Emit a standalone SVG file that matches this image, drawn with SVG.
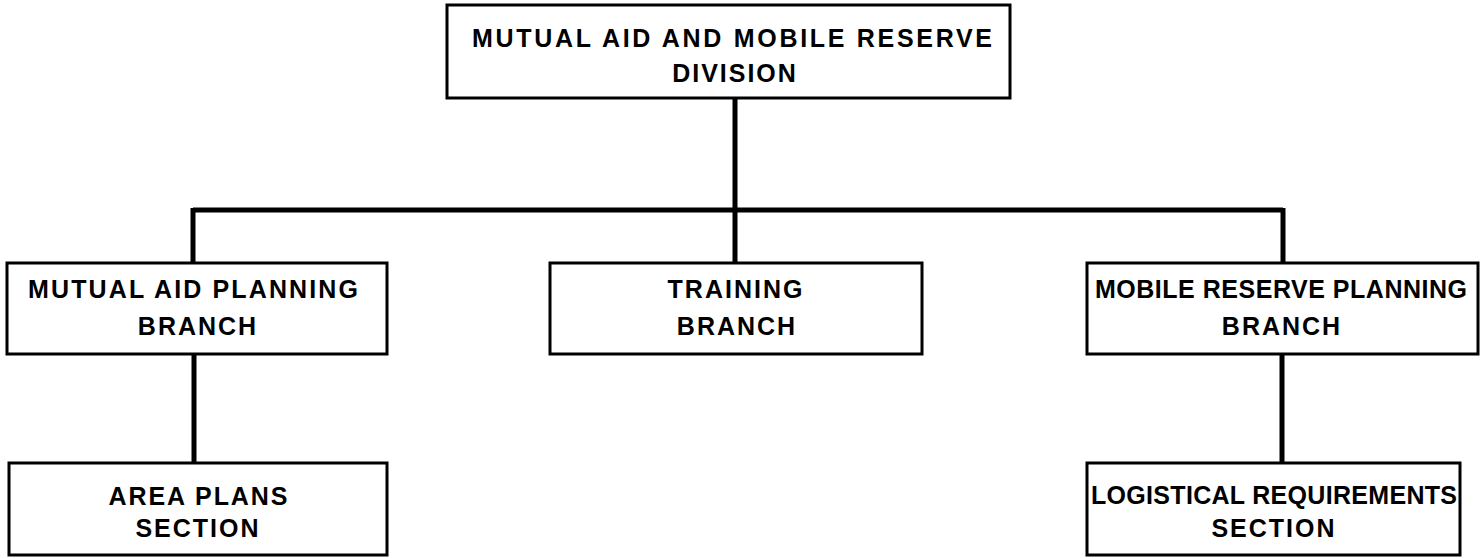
<svg xmlns="http://www.w3.org/2000/svg" width="1482" height="558" viewBox="0 0 1482 558">
<style>
.box{fill:#fff;stroke:#000;stroke-width:3}
.lbl{font-family:"Liberation Sans",Arial,sans-serif;font-weight:bold;font-size:25px;letter-spacing:2px;word-spacing:6px;text-anchor:middle;fill:#000}
.fit{letter-spacing:0;word-spacing:0}
.conn{stroke:#000;stroke-width:5;fill:none}
</style>
<rect width="1482" height="558" fill="#fff"/>
<g id="connectors">
<line class="conn" x1="735" y1="98" x2="735" y2="263"/>
<line class="conn" x1="193" y1="210" x2="1283" y2="210"/>
<line class="conn" x1="193" y1="208" x2="193" y2="263"/>
<line class="conn" x1="1283" y1="208" x2="1283" y2="263"/>
<line class="conn" x1="194" y1="354" x2="194" y2="463"/>
<line class="conn" x1="1282" y1="354" x2="1282" y2="463"/>
</g>
<g id="division">
<rect class="box" x="447" y="5" width="563" height="93"/>
<text class="lbl fit" x="732" y="47" textLength="520" lengthAdjust="spacing">MUTUAL AID AND MOBILE RESERVE</text>
<text class="lbl" x="735" y="82">DIVISION</text>
</g>
<g id="mutual-aid-branch">
<rect class="box" x="7" y="263" width="380" height="91"/>
<text class="lbl fit" x="193" y="298" textLength="330" lengthAdjust="spacing">MUTUAL AID PLANNING</text>
<text class="lbl" x="198" y="335">BRANCH</text>
</g>
<g id="training-branch">
<rect class="box" x="550" y="263" width="372" height="91"/>
<text class="lbl" x="736" y="298">TRAINING</text>
<text class="lbl" x="737" y="335">BRANCH</text>
</g>
<g id="mobile-reserve-branch">
<rect class="box" x="1087" y="263" width="391" height="91"/>
<text class="lbl fit" x="1281" y="298" textLength="372" lengthAdjust="spacing">MOBILE RESERVE PLANNING</text>
<text class="lbl" x="1282" y="335">BRANCH</text>
</g>
<g id="area-plans-section">
<rect class="box" x="9" y="463" width="378" height="92"/>
<text class="lbl fit" x="198" y="505" textLength="179" lengthAdjust="spacing">AREA PLANS</text>
<text class="lbl" x="198" y="537">SECTION</text>
</g>
<g id="logistical-section">
<rect class="box" x="1087" y="463" width="373" height="92"/>
<text class="lbl fit" x="1274" y="504" textLength="366" lengthAdjust="spacing">LOGISTICAL REQUIREMENTS</text>
<text class="lbl" x="1274" y="537">SECTION</text>
</g>
</svg>
